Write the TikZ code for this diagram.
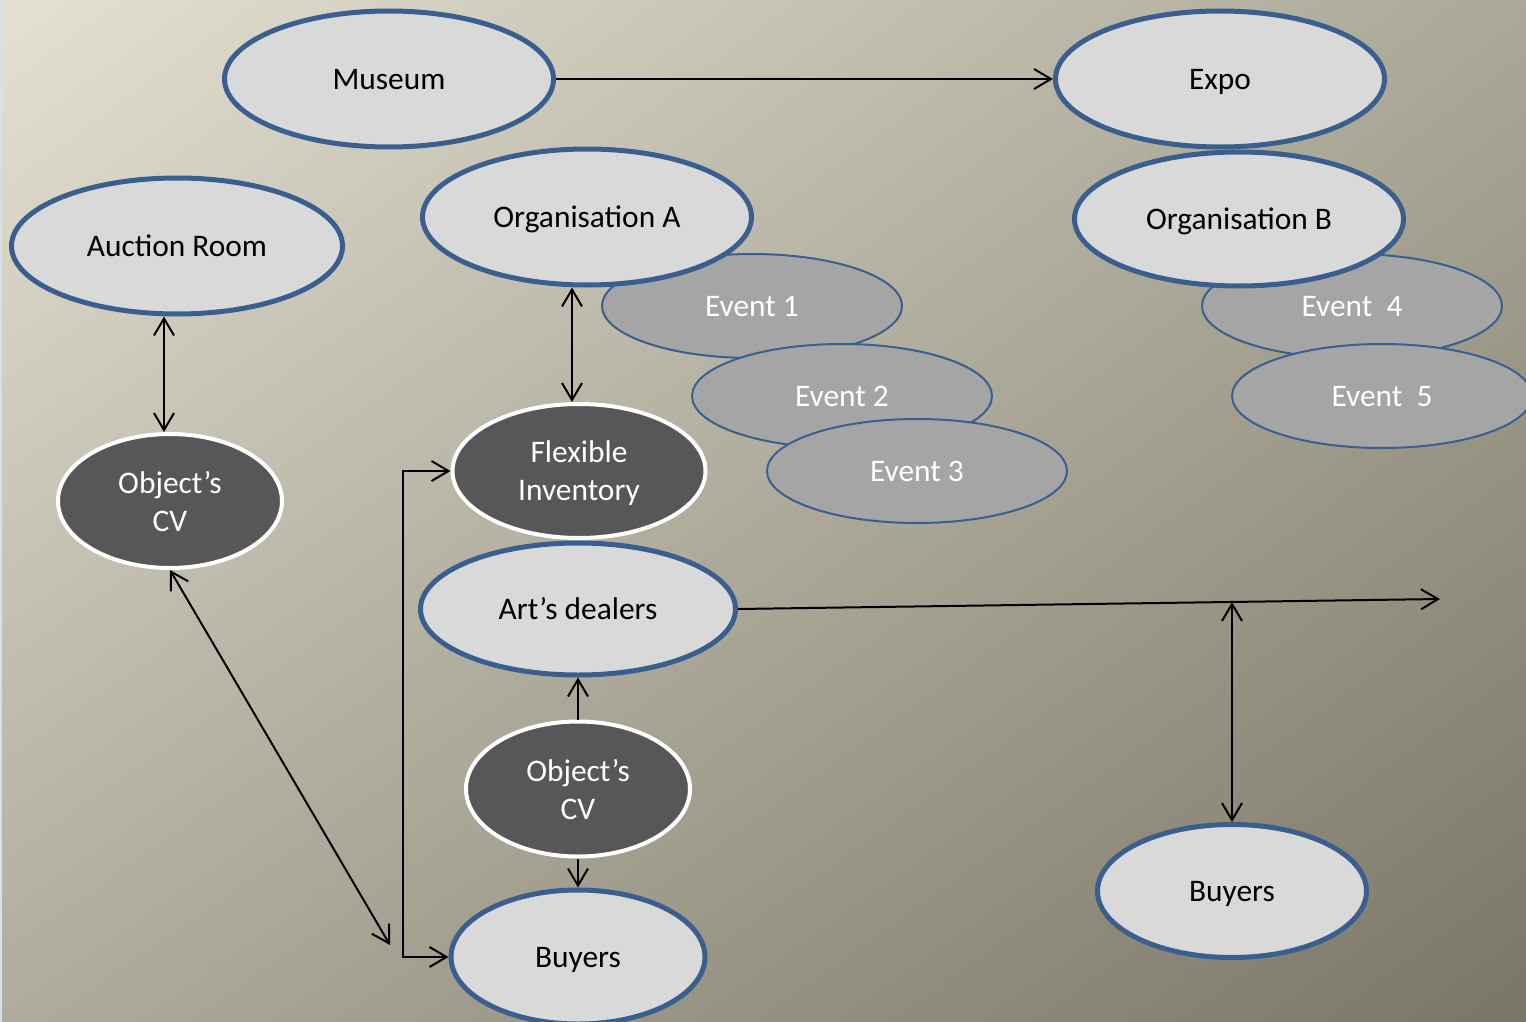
\documentclass[tikz,border=0pt]{standalone}
\usepackage{fontspec}
\setmainfont{Carlito}
\usepackage{tikz}
\usetikzlibrary{shapes.geometric, arrows.meta, calc, shadings}
\usepackage{xcolor}
\definecolor{bgTL}{HTML}{E4E1D3}
\definecolor{bgTR}{HTML}{ABA898}
\definecolor{bgBL}{HTML}{B0AC9C}
\definecolor{bgBR}{HTML}{7A7667}
\definecolor{edgeblue}{HTML}{D3E2E8}
\definecolor{rimblue}{HTML}{3A5F8E}
\definecolor{softgray}{HTML}{D9D9D9}
\definecolor{eventgray}{HTML}{A5A5A5}
\definecolor{inkgray}{HTML}{575757}

\begin{document}
\begin{tikzpicture}[x=0.5pt, y=-0.5pt, >={Straight Barb[length=8.5pt,width=10pt]}, line width=1pt,
    label/.style={font=\fontsize{15.7}{19}\selectfont, inner sep=0pt, align=center,
      execute at begin node={\rule{0pt}{13.6pt}}, execute at end node={\rule[-3.4pt]{0pt}{3.4pt}}},
    place/.style={label, ellipse, draw=rimblue, line width=2.5pt, fill=softgray, minimum width=164.5pt, minimum height=68pt},
    event/.style={label, ellipse, draw=rimblue, line width=1pt, fill=eventgray, text=white, minimum width=150pt, minimum height=52pt},
    record/.style={label, ellipse, draw=white, line width=2pt, fill=inkgray, text=white, minimum width=112pt, minimum height=67pt,
      text depth=-1.6pt}]
    % background
    \useasboundingbox (0,0) rectangle (1526,1022);
    \shade[upper left=bgTL, upper right=bgTR, lower left=bgBL, lower right=bgBR] (0,0) rectangle (1526,1022);
    \fill[edgeblue] (0,0) rectangle (2,1022);

    % top row
    \node[place] (museum) at (389,79) {Museum};
    \node[place] (expo) at (1220,79) {Expo};
    \node[place, minimum width=165.5pt] (auction) at (177,246) {Auction Room};

    % events of organisation A
    \node[event] (ev1) at (752,306) {Event 1};
    \node[event] (ev2) at (842,396) {Event 2};
    \node[event] (ev3) at (917,471) {Event 3};
    \node[place] (orgA) at (587,217) {Organisation A};

    % events of organisation B
    \node[event] (ev4) at (1352,306) {Event\ \ 4};
    \node[event] (ev5) at (1382,396) {Event\ \ 5};
    \node[place, minimum height=67pt] (orgB) at (1239,219) {Organisation B};

    % middle column
    \node[record] (cvL) at (170,501) {Object’s\\CV};
    \node[record, minimum width=126.5pt] (flex) at (579,471) {Flexible\\Inventory};
    \node[place, minimum width=157.5pt, minimum height=66pt] (dealers) at (578,609) {Art’s dealers};
    \node[record, minimum height=67.5pt] (cvM) at (578,789) {Object’s\\CV};
    \node[place, minimum width=127pt, minimum height=67pt] (buyersA) at (578,957) {Buyers};
    \node[place, minimum width=134.5pt, minimum height=66.5pt] (buyersB) at (1232,891) {Buyers};

    \coordinate (cvend) at (390,945);
    \coordinate (fork) at (403,712);
    \coordinate (farend) at (1440,599);
    \coordinate (foot) at ($(dealers.east)!(buyersB.north)!(farend)$);

    % connectors
    \draw[->] (museum) -- (expo);
    \draw[<->] ([xshift=-6.5pt]auction.south) -- ([xshift=-3pt]cvL.north);
    \draw[<->] ([xshift=-7.5pt]orgA.south) -- ([xshift=-3.5pt]flex.north);
    \draw[<->] (cvL.south) -- (cvend);
    \draw[->] (fork) |- (flex.west);
    \draw[->] (fork) |- (buyersA.west);
    \draw[->] (cvM) -- (dealers);
    \draw[->] (cvM) -- (buyersA);
    \draw[->] (dealers.east) -- (farend);
    \draw[<->] (foot -| buyersB.north) -- (buyersB.north);
\end{tikzpicture}
\end{document}
